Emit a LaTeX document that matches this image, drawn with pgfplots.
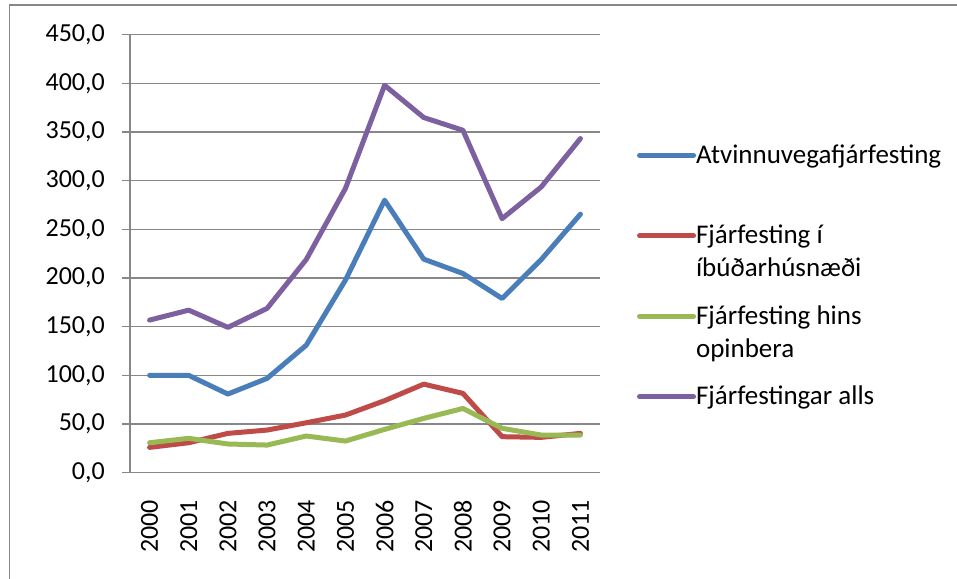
\documentclass[border=0pt]{standalone}
\usepackage{pgfplots}
\pgfplotsset{compat=1.18}
\usepackage{fontspec}
\setmainfont{Carlito}
\definecolor{cblue}{HTML}{4A7EBB}
\definecolor{cred}{HTML}{BE4B48}
\definecolor{cgreen}{HTML}{98B954}
\definecolor{cpurple}{HTML}{7D60A0}
\definecolor{cgrid}{HTML}{878787}
\newcommand{\ent}[2]{\parbox[t]{8cm}{\raggedright\strut #1\\\strut #2}}
\begin{document}
\begin{tikzpicture}
\path[use as bounding box] (-130pt,-105.3pt) rectangle (827pt,472.7pt);
\begin{axis}[
  scale only axis,
  width=470pt, height=438pt,
  xmin=-0.5, xmax=11.5,
  ymin=0, ymax=450,
  axis x line*=bottom,
  axis y line*=left,
  axis line style={cgrid, line width=1.4pt, -},
  xtick={0,...,11},
  xticklabels={2000,2001,2002,2003,2004,2005,2006,2007,2008,2009,2010,2011},
  minor xtick={-0.5,0.5,...,11.5},
  ytick={0,50,...,450},
  tick align=outside,
  x tick style={draw=none},
  minor x tick style={cgrid, line width=1.4pt},
  y tick style={cgrid, line width=1.4pt},
  minor tick length=8pt,
  major tick length=8pt,
  ymajorgrids,
  major grid style={cgrid, line width=1.4pt},
  /pgf/number format/.cd, fixed, fixed zerofill, precision=1, use comma, 1000 sep={}, assume math mode=true,
  /pgfplots/.cd,
  tick label style={font=\fontsize{26}{30}\selectfont},
  yticklabel style={anchor=east, inner sep=0pt, xshift=-17pt},
  xticklabel style={rotate=90, anchor=east, inner sep=0pt, yshift=0pt, xshift=-19pt},
  legend style={draw=none, fill=none, at={(1.072,0.764)}, anchor=north west,
     font=\fontsize{27}{33}\selectfont, row sep=14.5pt,
     nodes={inner sep=0pt, anchor=base west, text height=23pt, text depth=43pt}},
  legend cell align=left,
  legend image code/.code={\draw[#1, line width=5pt, line cap=round] (0pt,8pt) -- (54pt,8pt);},
  every axis plot/.append style={line width=5pt, line join=round, line cap=round, mark=none},
]
\addplot[cblue] coordinates {(0,100) (1,100) (2,80.8) (3,96.9) (4,131) (5,197.8) (6,280) (7,219.4) (8,204.7) (9,179) (10,219) (11,265.6)};
\addlegendentry{\ent{Atvinnuvegafjárfesting}{}}
\addplot[cred] coordinates {(0,26) (1,30.8) (2,40.4) (3,43.8) (4,51.3) (5,59.2) (6,74) (7,91) (8,81.5) (9,37) (10,36.3) (11,40.4)};
\addlegendentry{\ent{Fjárfesting í}{íbúðarhúsnæði}}
\addplot[cgreen] coordinates {(0,30.8) (1,35.3) (2,29.5) (3,28.4) (4,37.7) (5,32.5) (6,44.5) (7,55.8) (8,66) (9,45.6) (10,38.7) (11,38.7)};
\addlegendentry{\ent{Fjárfesting hins}{opinbera}}
\addplot[cpurple] coordinates {(0,156.8) (1,167) (2,149.3) (3,168.8) (4,219) (5,292) (6,398) (7,364.9) (8,351.8) (9,261) (10,293.6) (11,343.3)};
\addlegendentry{\ent{Fjárfestingar alls}{}}
\end{axis}
\draw[cgrid, line width=1.4pt] (-120.5pt,-106pt) -- (-120.5pt,467.7pt) -- (828pt,467.7pt);
\end{tikzpicture}
\end{document}
